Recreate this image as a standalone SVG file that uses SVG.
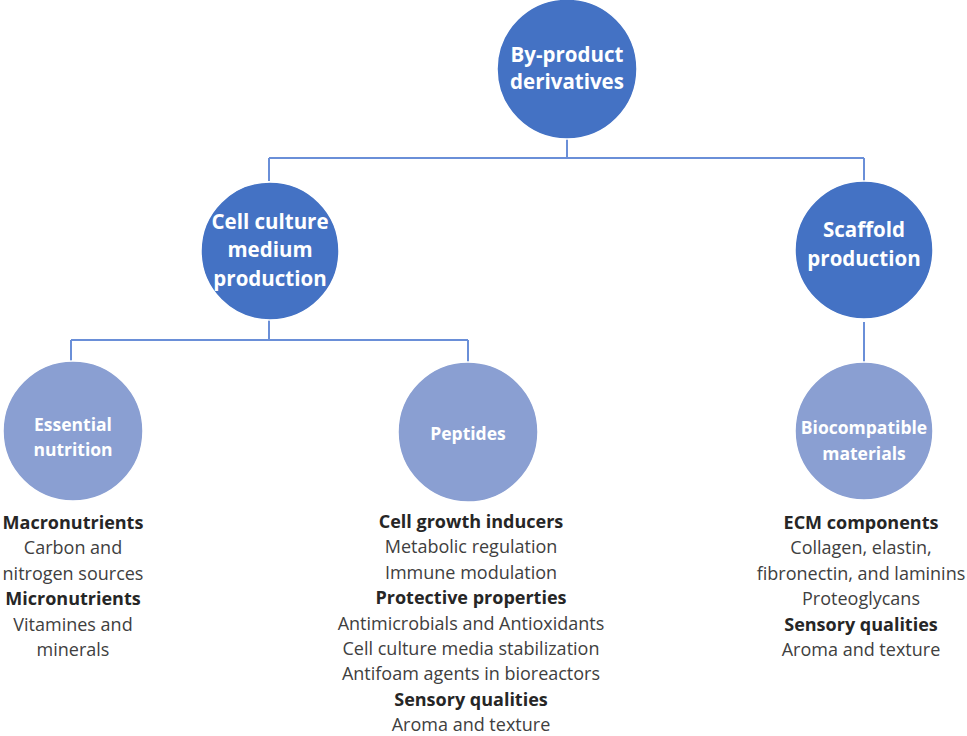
<svg xmlns="http://www.w3.org/2000/svg" width="967" height="736" viewBox="0 0 967 736">
<style>
.dark{fill:#4472c4;stroke:#ffffff;stroke-width:1.5}
.light{fill:#8a9fd2;stroke:#ffffff;stroke-width:1.5}
.lbl{font-family:"Open Sans","Noto Sans",sans-serif;font-weight:bold;fill:#ffffff;text-anchor:middle}
.big{font-size:20.5px}
.small{font-size:17.5px}
.desc{font-family:"Open Sans","Noto Sans",sans-serif;font-size:18px;fill:#404040;text-anchor:middle}
.desc .b{font-weight:bold;fill:#262626}
.conn{fill:none;stroke:#6a8fd8;stroke-width:2}
</style>
<rect width="967" height="736" fill="#ffffff"/>
<g id="connectors">
<path class="conn" d="M567,139 V158 M269,158 H864 M269,158 V181 M864,158 V181"/>
<path class="conn" d="M269,320 V340 M71,340 H468 M71,340 V362 M468,340 V363"/>
<path class="conn" d="M864,322 V362"/>
</g>
<g id="n-root">
<circle class="dark" cx="567" cy="69" r="70"/>
<text class="lbl big" x="567" y="62">By-product</text>
<text class="lbl big" x="567" y="89">derivatives</text>
</g>
<g id="n-culture">
<circle class="dark" cx="270" cy="251" r="69"/>
<text class="lbl big" x="270" y="229">Cell culture</text>
<text class="lbl big" x="270" y="257">medium</text>
<text class="lbl big" x="270" y="286">production</text>
</g>
<g id="n-scaffold">
<circle class="dark" cx="864" cy="250" r="69"/>
<text class="lbl big" x="864" y="237">Scaffold</text>
<text class="lbl big" x="864" y="266">production</text>
</g>
<g id="n-nutrition">
<circle class="light" cx="73" cy="431" r="70"/>
<text class="lbl small" x="73" y="431">Essential</text>
<text class="lbl small" x="73" y="456">nutrition</text>
<text class="desc" x="73" y="529"><tspan class="b">Macronutrients</tspan><tspan x="73" dy="25.4">Carbon and</tspan><tspan x="73" dy="25.4">nitrogen sources</tspan><tspan x="73" dy="25.4" class="b">Micronutrients</tspan><tspan x="73" dy="25.4">Vitamines and</tspan><tspan x="73" dy="25.4">minerals</tspan></text>
</g>
<g id="n-peptides">
<circle class="light" cx="468" cy="432" r="70"/>
<text class="lbl small" x="468" y="440">Peptides</text>
<text class="desc" x="471" y="528"><tspan class="b">Cell growth inducers</tspan><tspan x="471" dy="25.4">Metabolic regulation</tspan><tspan x="471" dy="25.4">Immune modulation</tspan><tspan x="471" dy="25.4" class="b">Protective properties</tspan><tspan x="471" dy="25.4">Antimicrobials and Antioxidants</tspan><tspan x="471" dy="25.4">Cell culture media stabilization</tspan><tspan x="471" dy="25.4">Antifoam agents in bioreactors</tspan><tspan x="471" dy="25.4" class="b">Sensory qualities</tspan><tspan x="471" dy="25.4">Aroma and texture</tspan></text>
</g>
<g id="n-biocompatible">
<circle class="light" cx="864" cy="431" r="69"/>
<text class="lbl small" x="864" y="434">Biocompatible</text>
<text class="lbl small" x="864" y="460">materials</text>
<text class="desc" x="861" y="529"><tspan class="b">ECM components</tspan><tspan x="861" dy="25.4">Collagen, elastin,</tspan><tspan x="861" dy="25.4">fibronectin, and laminins</tspan><tspan x="861" dy="25.4">Proteoglycans</tspan><tspan x="861" dy="25.4" class="b">Sensory qualities</tspan><tspan x="861" dy="25.4">Aroma and texture</tspan></text>
</g>
</svg>
